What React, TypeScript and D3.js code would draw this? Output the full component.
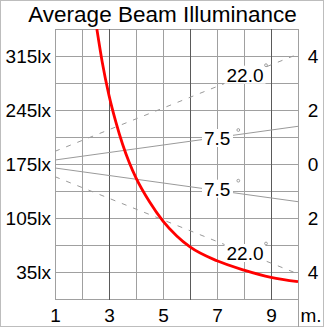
import React from "react";
import * as d3 from "d3";

// ---- data ----
const distances = [2.55, 2.75, 3.0, 3.25, 3.5, 3.75, 4, 4.5, 5, 5.5, 6, 7, 8, 9, 10];
const illuminance = [350, 307, 264, 230, 201, 177, 157, 126, 101, 82, 67.5, 49.5, 37.5, 28, 22.4];
const luxTicks = [35, 105, 175, 245, 315];
const luxLabels = ["35lx", "105lx", "175lx", "245lx", "315lx"];
const meterTicks = [-4, -2, 0, 2, 4];
const meterLabels = ["4", "2", "0", "2", "4"];
const distTicks = [1, 3, 5, 7, 9];
const beamDist = [1, 10];
const beam75 = [0.148, 1.396];
const beam22 = [0.47, 4.07];

const W = 326;
const H = 329;
const L = 55, R = 298, T = 29, B = 299;
const FONT = "'Liberation Sans', Arial, sans-serif";

export default function App() {
  const x = d3.scaleLinear().domain([1, 10]).range([L, R]);
  const yLux = d3.scaleLinear().domain([0, 350]).range([B, T]);
  const yM = d3.scaleLinear().domain([-5, 5]).range([B, T]);

  const vLines = d3.range(1, 11);
  const hLines = d3.range(0, 351, 35);

  const curve = d3
    .line<number>()
    .x((_, i) => x(distances[i]))
    .y((v) => yLux(v))
    .curve(d3.curveMonotoneX)(illuminance) as string;

  const beamLine = (vals: number[], sign: number) =>
    d3
      .line<number>()
      .x((_, i) => x(beamDist[i]))
      .y((v) => yM(sign * v))(vals) as string;

  const labels = [
    { t: "22.0", x: 226.5, y: 81.7, w: 37, dx: 39.5, dy: -16.5 },
    { t: "7.5", x: 204, y: 145, w: 27, dx: 34.3, dy: -15 },
    { t: "7.5", x: 204, y: 195.7, w: 27, dx: 34.3, dy: -15 },
    { t: "22.0", x: 226.5, y: 260, w: 37, dx: 39.5, dy: -16.5 },
  ];

  return (
    <svg width={W} height={H} style={{ display: "block", position: "absolute", left: 0, top: 0 }}>
      <rect x={0} y={0} width={W} height={H} fill="#fff" />
      <rect x={0.5} y={0.5} width={323} height={326} fill="none" stroke="#bdbdbd" strokeWidth={1} />
      <defs>
        <clipPath id="plotClip">
          <rect x={L} y={T} width={R - L + 1} height={B - T + 1} />
        </clipPath>
      </defs>
      {/* grid */}
      {hLines.map((v) => (
        <line key={"h" + v} x1={L} x2={R + 1} y1={Math.round(yLux(v)) + 0.5} y2={Math.round(yLux(v)) + 0.5} stroke="#a0a0a0" />
      ))}
      {vLines.map((d) => (
        <line
          key={"v" + d}
          x1={Math.round(x(d)) + 0.5}
          x2={Math.round(x(d)) + 0.5}
          y1={T}
          y2={d === 10 ? 327 : B + 1}
          stroke={d % 3 === 0 ? "#5a5a5a" : "#a0a0a0"}
        />
      ))}
      {/* beam lines */}
      <g clipPath="url(#plotClip)">
        <path d={beamLine(beam75, 1)} stroke="#9a9a9a" fill="none" />
        <path d={beamLine(beam75, -1)} stroke="#9a9a9a" fill="none" />
        <path d={beamLine(beam22, 1)} stroke="#9a9a9a" fill="none" strokeDasharray="5,7" />
        <path d={beamLine(beam22, -1)} stroke="#9a9a9a" fill="none" strokeDasharray="5,7" />
      </g>
      {/* beam labels */}
      {labels.map((lb, i) => (
        <g key={"lb" + i}>
          <rect x={lb.x - 2} y={lb.y - 16} width={lb.w + 4} height={18} fill="#fff" />
          <text x={lb.x} y={lb.y} fontFamily={FONT} fontSize={19} fill="#000">
            {lb.t}
          </text>
          <circle cx={lb.x + lb.dx} cy={lb.y + lb.dy} r={1.4} fill="none" stroke="#8a8a8a" strokeWidth={0.8} />
        </g>
      ))}
      {/* red curve */}
      <g clipPath="url(#plotClip)">
        <path d={curve} stroke="#ff0000" strokeWidth={2.8} fill="none" />
      </g>
      {/* title */}
      <text x={162.5} y={21.7} textAnchor="middle" fontFamily={FONT} fontSize={22.5} fill="#000">
        Average Beam Illuminance
      </text>
      {/* left axis */}
      {luxTicks.map((v, i) => (
        <text key={"l" + v} x={51} y={yLux(v) + 7} textAnchor="end" fontFamily={FONT} fontSize={19} fill="#000">
          {luxLabels[i]}
        </text>
      ))}
      {/* right axis */}
      {meterTicks.map((v, i) => (
        <text key={"r" + v} x={313} y={yM(v) + 7} textAnchor="middle" fontFamily={FONT} fontSize={19} fill="#000">
          {meterLabels[i]}
        </text>
      ))}
      {/* bottom axis */}
      {distTicks.map((d) => (
        <text key={"b" + d} x={x(d) + 0.5} y={321.5} textAnchor="middle" fontFamily={FONT} fontSize={19} fill="#000">
          {d}
        </text>
      ))}
      <text x={300.5} y={321.5} fontFamily={FONT} fontSize={19} fill="#000">
        m.
      </text>
    </svg>
  );
}
